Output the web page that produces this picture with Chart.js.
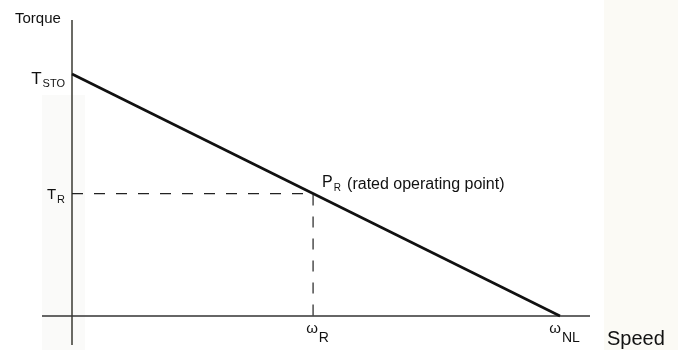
<!DOCTYPE html>
<html>
<head>
<meta charset="utf-8">
<script src="https://cdn.jsdelivr.net/npm/chart.js"></script>
<style>
  html, body { margin: 0; padding: 0; background: #fff; }
  #wrap { width: 678px; height: 350px; }
</style>
</head>
<body>
<div id="wrap"><canvas id="graph" width="678" height="350"></canvas></div>
<script>
// speed normalised to no-load speed, torque normalised to stall torque
const speed = [0, 1];
const torque = [1, 0];
const ratedSpeed = 0.494;
const ratedTorque = 0.506;

// axis labels: main letter + subscript
const xTickValues = [ratedSpeed, 1];
const xTickMain = ['ω', 'ω'];
const xTickSub = ['R', 'NL'];
const yTickValues = [1, ratedTorque];
const yTickMain = ['T', 'T'];
const yTickSub = ['STO', 'R'];

const FONT = '"Liberation Sans", Arial, sans-serif';

function drawSub(ctx, x, y, main, sub, size, subSize, drop, align)
{
    ctx.font = size + 'px ' + FONT;
    let w1 = ctx.measureText(main).width;
    ctx.font = subSize + 'px ' + FONT;
    let w2 = ctx.measureText(sub).width;
    let left = x - (w1 + w2) / 2;
    if (align === 'right') left = x - w1 - w2;
    if (align === 'left') left = x;
    ctx.textAlign = 'left';
    ctx.textBaseline = 'alphabetic';
    ctx.font = size + 'px ' + FONT;
    ctx.fillText(main, left, y);
    ctx.font = subSize + 'px ' + FONT;
    ctx.fillText(sub, left + w1 + 1, y + drop);
}

const backdrop = {
    id: 'backdrop',
    beforeDraw(chart)
    {
        const ctx = chart.ctx;
        ctx.save();
        ctx.fillStyle = '#ffffff';
        ctx.fillRect(0, 0, chart.width, chart.height);
        ctx.fillStyle = '#fafaf9';
        ctx.fillRect(42, 95, 43, 255);
        ctx.fillStyle = '#fbfaf5';
        ctx.fillRect(604, 0, 74, 350);
        ctx.restore();
    }
};

const axesAndLabels = {
    id: 'axesAndLabels',
    beforeDatasetsDraw(chart)
    {
        const ctx = chart.ctx;
        const xs = chart.scales.x;
        const ys = chart.scales.y;
        const x0 = xs.getPixelForValue(0);
        const y0 = ys.getPixelForValue(0);
        ctx.save();
        ctx.lineWidth = 1.5;
        ctx.strokeStyle = '#3a3a32';
        ctx.beginPath();
        ctx.moveTo(x0, 20);
        ctx.lineTo(x0, 345);
        ctx.stroke();
        ctx.strokeStyle = '#333333';
        ctx.beginPath();
        ctx.moveTo(42, y0);
        ctx.lineTo(590, y0);
        ctx.stroke();
        ctx.restore();
    },
    afterDraw(chart)
    {
        const ctx = chart.ctx;
        const xs = chart.scales.x;
        const ys = chart.scales.y;
        ctx.save();
        ctx.fillStyle = '#111111';

        ctx.font = '15px ' + FONT;
        ctx.textAlign = 'left';
        ctx.textBaseline = 'alphabetic';
        ctx.fillText('Torque', 15, 23);

        ctx.font = '20px ' + FONT;
        ctx.fillText('Speed', 607, 345);

        // y labels
        drawSub(ctx, 64, ys.getPixelForValue(yTickValues[0]) + 10, yTickMain[0], yTickSub[0], 17, 11, 3, 'right');
        drawSub(ctx, 64, ys.getPixelForValue(yTickValues[1]) + 5, yTickMain[1], yTickSub[1], 15, 11, 4, 'right');

        // x labels
        for (let i = 0; i < xTickValues.length; i++)
        {
            drawSub(ctx, xs.getPixelForValue(xTickValues[i]) + 4, 333, xTickMain[i], xTickSub[i], 15, 14, 9, 'center');
        }

        // rated point note
        const px = xs.getPixelForValue(ratedSpeed);
        const py = ys.getPixelForValue(ratedTorque);
        drawSub(ctx, px + 9, py - 7, 'P', 'R', 16, 10, 4, 'left');
        ctx.font = '16px ' + FONT;
        ctx.textAlign = 'left';
        ctx.fillText('(rated operating point)', px + 34, py - 5);
        ctx.restore();
    }
};

new Chart(document.getElementById('graph'), {
    type: 'scatter',
    data: {
        datasets: [
            {
                data: speed.map((s, i) => ({ x: s, y: torque[i] })),
                showLine: true,
                borderColor: '#111111',
                borderWidth: 2.6,
                pointRadius: 0,
                clip: false
            },
            {
                data: [
                    { x: 0, y: ratedTorque },
                    { x: ratedSpeed, y: ratedTorque },
                    { x: ratedSpeed, y: 0 }
                ],
                showLine: true,
                borderColor: '#222222',
                borderWidth: 1.2,
                borderDash: [11, 11],
                pointRadius: 0,
                clip: false
            }
        ]
    },
    options: {
        responsive: false,
        animation: false,
        layout: { padding: { left: 72, right: 118, top: 74, bottom: 34 } },
        plugins: { legend: { display: false }, tooltip: { enabled: false } },
        scales: {
            x: { type: 'linear', min: 0, max: 1, display: false },
            y: { type: 'linear', min: 0, max: 1, display: false }
        }
    },
    plugins: [backdrop, axesAndLabels]
});
</script>
</body>
</html>
